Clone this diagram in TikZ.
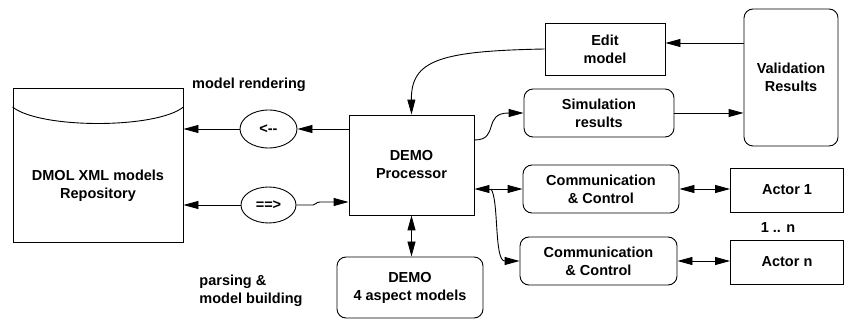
\documentclass[tikz,border=0pt]{standalone}
\usepackage{fontspec}
\setmainfont{Liberation Sans}
\usetikzlibrary{arrows.meta,shapes.geometric}
\begin{document}
\begin{tikzpicture}[x=1pt,y=-1pt, line width=0.9pt,
  every node/.style={font=\fontsize{14.5}{18}\selectfont\bfseries, align=center, inner sep=0pt},
  sq/.style={draw, rectangle},
  rr/.style={draw, rectangle, rounded corners=9pt},
  ell/.style={draw, ellipse},
  arr/.style={-{Triangle[length=15pt,width=8pt]}},
  darr/.style={{Triangle[length=15pt,width=8pt]}-{Triangle[length=15pt,width=8pt]}}]
\useasboundingbox (0,0) rectangle (845,320);

% nodes
\node[sq, minimum width=170pt, minimum height=154pt] (repo) at (98,165) {};
\node (repotext) at (98,186) {DMOL XML models\\Repository};
\node[ell, minimum width=57pt, minimum height=38pt] (ell1) at (268.5,129) {<-{}-};
\node[ell, minimum width=55pt, minimum height=36pt] (ell2) at (268.5,205) {==>};
\node[sq, minimum width=125pt, minimum height=100pt] (proc) at (411.5,165) {DEMO\\Processor};
\node[sq, minimum width=120pt, minimum height=52pt] (edit) at (605,49) {Edit\\model};
\node[rr, minimum width=94pt, minimum height=137pt] (val) at (791,77.5) {Validation\\Results};
\node[rr, minimum width=150pt, minimum height=48pt] (sim) at (599,113) {Simulation\\results};
\node[rr, minimum width=156pt, minimum height=48pt] (comm1) at (601,189) {Communication\\\& Control};
\node[rr, minimum width=157pt, minimum height=48pt] (comm2) at (598.5,261) {Communication\\\& Control};
\node[sq, minimum width=113pt, minimum height=44pt] (actor1) at (787,190) {Actor 1};
\node[sq, minimum width=113pt, minimum height=44pt] (actorn) at (787,262) {Actor n};
\node[rr, minimum width=146pt, minimum height=61pt] (asp) at (410,287.5) {DEMO\\4 aspect models};

% labels
\node (lrender) at (249,85) {model rendering};
\node[anchor=west, align=left] (lparse) at (199,291) {parsing \&\\model building};
\node (lonen) at (778,228) {1 .. n};

% repository curved top
\draw (repo.west |- 0,107) .. controls (40,129) and (156,129) .. (repo.east |- 0,107);

% connectors
\draw[arr] (ell1.west) -- (repo.east |- ell1.west);
\draw[arr] (proc.west |- ell1.east) -- (ell1.east);
\draw[arr] (ell2.west) -- (repo.east |- ell2.west);
\draw[arr] (ell2.east) -- (313,205) .. controls (317,205) and (315,202) .. (320,202) -- (proc.west |- 0,202);
\draw[arr] (edit.west) .. controls (440,51) and (411,60) .. (proc.north);
\draw[arr] (proc.east |- 0,140) .. controls (500,140) and (482,113) .. (sim.west);
\draw[arr] (sim.east) -- (val.west |- sim.east);
\draw[arr] (val.west |- 0,43) -- (edit.east |- 0,43);
\draw[darr] (proc.east |- comm1.west) -- (comm1.west);
\coordinate (br) at (491,189);
\draw[arr] (br) .. controls (499,200) and (494,261) .. (comm2.west);
\draw[darr] (comm1.east) -- (actor1.west |- comm1.east);
\draw[darr] (comm2.east) -- (actorn.west |- comm2.east);
\draw[darr] (proc.south) -- (proc.south |- asp.north);
\end{tikzpicture}
\end{document}
